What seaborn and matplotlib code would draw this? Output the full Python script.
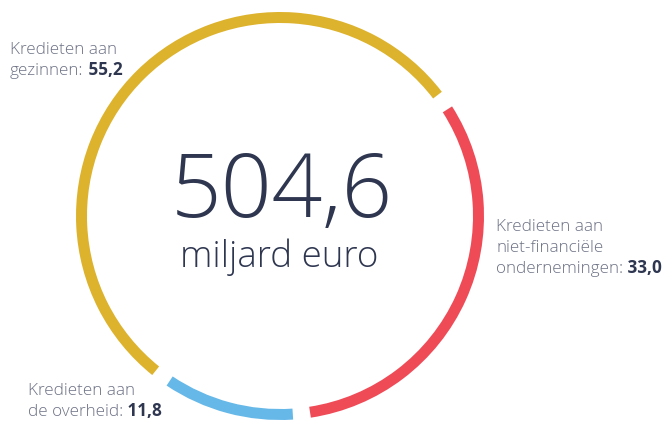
import matplotlib
matplotlib.use("Agg")
import matplotlib.pyplot as plt
import seaborn as sns

# data
segments = ["Kredieten aan\nniet-financiële\nondernemingen:", "Kredieten aan\nde overheid:", "Kredieten aan\ngezinnen:"]
shares = [33.0, 11.8, 55.2]
total = 504.6
unit = "miljard euro"
seg_colors = ["#EF4B57", "#66B8E8", "#DDB22C"]

sns.set_theme(style="white")
plt.rcParams["font.family"] = ["Open Sans", "DejaVu Sans"]

W, H = 663, 424
fig = plt.figure(figsize=(W / 100, H / 100), dpi=100)
ax = fig.add_axes([0, 0, 1, 1])

cx, cy, R, ring = 280, 216, 204, 11
wedges, _ = ax.pie(shares, colors=sns.color_palette(seg_colors), startangle=35,
                   counterclock=False, center=(cx, H - cy), radius=R,
                   wedgeprops=dict(width=ring, linewidth=0))
gap = 5.0
for w in wedges:
    w.set_theta1(w.theta1 + gap / 2)
    w.set_theta2(w.theta2 - gap / 2)

ax.set_xlim(0, W)
ax.set_ylim(0, H)
ax.set_aspect("equal")
ax.axis("off")

def fmt(v):
    return f"{v:.1f}".replace(".", ",")

# centre text
dark = "#2E3650"
grey = "#6C7184"
ax.text(cx + 2, H - 194, fmt(total), ha="center", va="center", fontsize=64,
        fontweight="light", color=dark)
ax.text(cx - 1, H - 257, unit, ha="center", va="center", fontsize=26.5,
        fontweight="light", color=dark)

# labels: (x, y of last line centre)
label_pos = [(496, 269), (28, 412), (10, 71)]
for lab, val, (lx, ly) in zip(segments, shares, label_pos):
    lines = lab.split("\n")
    n = len(lines)
    for i, line in enumerate(lines):
        y = ly - (n - 1 - i) * 21
        t = ax.text(lx, H - y, line, ha="left", va="center", fontsize=12.3,
                    fontweight="light", color=grey)
    ax.annotate(" " + fmt(val), xy=(1, 0), xycoords=t, ha="left", va="bottom",
                fontsize=12.3, fontweight="bold", color=dark)

fig.savefig("out.png", dpi=100, facecolor="white")
